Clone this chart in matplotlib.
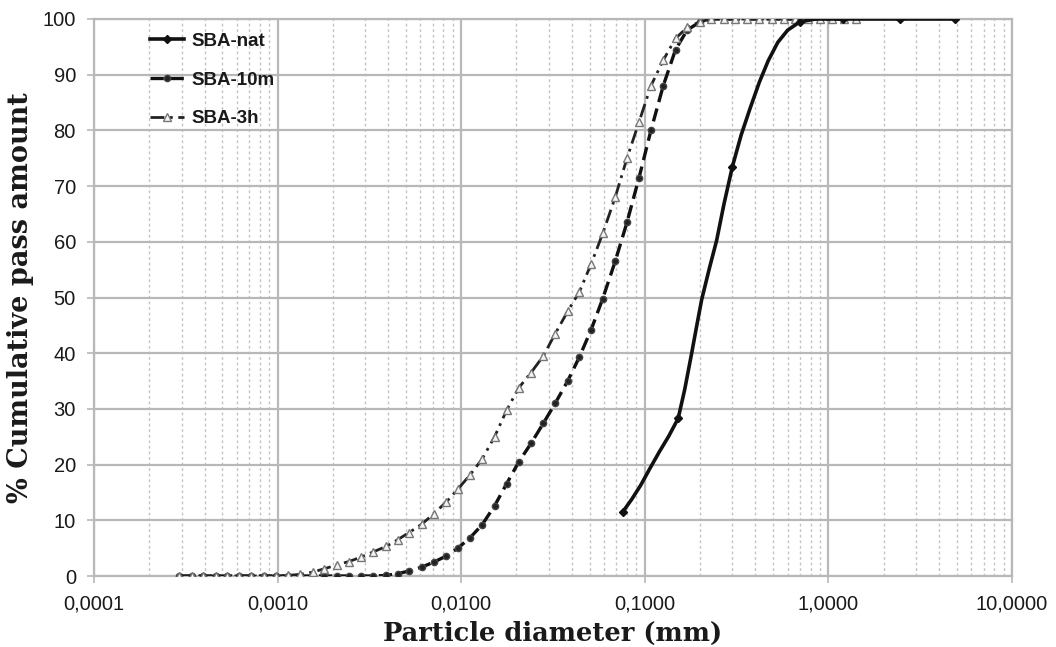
import matplotlib
matplotlib.use("Agg")
import matplotlib.pyplot as plt
from matplotlib.ticker import FixedLocator, NullFormatter, LogLocator

# ---- data ----
nat_x = [0.0758, 0.085, 0.095, 0.107, 0.12, 0.135, 0.152, 0.165, 0.18, 0.192,
         0.204, 0.225, 0.246, 0.27, 0.30, 0.335, 0.374, 0.42, 0.47, 0.53,
         0.60, 0.70, 0.85, 1.2, 2.45, 4.9]
nat_y = [11.5, 13.8, 16.3, 19.4, 22.3, 25.1, 28.3, 33.5, 40.0, 45.0,
         49.6, 55.3, 60.2, 66.8, 73.5, 79.2, 83.9, 88.6, 92.5, 95.8,
         98.0, 99.5, 100, 100, 100, 100]
nat_markers = [0, 6, 14, 21, 23, 24, 25]

m10_x = [0.00029, 0.00034, 0.00039, 0.00046, 0.00053, 0.00062, 0.00072, 0.00084,
         0.00098, 0.00114, 0.00133, 0.00155, 0.0018, 0.0021, 0.00245, 0.00285,
         0.0033, 0.0039, 0.0045, 0.0052, 0.0061, 0.0071, 0.0083, 0.0096, 0.0112,
         0.013, 0.0152, 0.0177, 0.0206, 0.024, 0.028, 0.0325, 0.038, 0.044, 0.051,
         0.059, 0.069, 0.08, 0.093, 0.108, 0.126, 0.147, 0.17, 0.2, 0.23, 0.27,
         0.31, 0.36, 0.42, 0.49, 0.57, 0.66, 0.77, 0.9, 1.05, 1.22]
m10_y = [0, 0, 0, 0, 0, 0, 0, 0,
         0, 0, 0, 0, 0, 0, 0, 0,
         0, 0.1, 0.4, 0.9, 1.6, 2.5, 3.6, 5.0, 6.9,
         9.2, 12.6, 16.6, 20.5, 23.8, 27.4, 31.0, 35.0, 39.3, 44.2,
         49.8, 56.5, 63.5, 71.5, 80.0, 88.0, 94.5, 98.0, 99.5, 100, 100,
         100, 100, 100, 100, 100, 100, 100, 100, 100, 100]

h3_x = [0.00029, 0.00034, 0.00039, 0.00046, 0.00053, 0.00062, 0.00072, 0.00084,
        0.00098, 0.00114, 0.00133, 0.00155, 0.0018, 0.0021, 0.00245, 0.00285,
        0.0033, 0.0039, 0.0045, 0.0052, 0.0061, 0.0071, 0.0083, 0.0096, 0.0112,
        0.013, 0.0152, 0.0177, 0.0206, 0.024, 0.028, 0.0325, 0.038, 0.044, 0.051,
        0.059, 0.069, 0.08, 0.093, 0.108, 0.126, 0.147, 0.17, 0.2, 0.23, 0.27,
        0.31, 0.36, 0.42, 0.49, 0.57, 0.66, 0.77, 0.9, 1.05, 1.22, 1.42]
h3_y = [0, 0, 0, 0, 0, 0, 0, 0,
        0, 0.1, 0.3, 0.7, 1.3, 2.0, 2.6, 3.4,
        4.3, 5.3, 6.5, 7.8, 9.3, 11.2, 13.3, 15.6, 18.2,
        21.0, 25.0, 29.8, 33.8, 36.5, 39.5, 43.5, 47.5, 51.0, 56.0,
        61.5, 68.0, 75.0, 81.5, 88.0, 92.6, 96.5, 98.5, 99.5, 100, 100,
        100, 100, 100, 100, 100, 100, 100, 100, 100, 100, 100]

labels = ["SBA-nat", "SBA-10m", "SBA-3h"]
x_ticks = [0.0001, 0.001, 0.01, 0.1, 1, 10]
x_ticklabels = ["0,0001", "0,0010", "0,0100", "0,1000", "1,0000", "10,0000"]
y_ticks = [0, 10, 20, 30, 40, 50, 60, 70, 80, 90, 100]

# ---- figure ----
fig = plt.figure(figsize=(10.56, 6.47), dpi=100)
ax = fig.add_axes([94/1056, 1 - 576/647, (1012 - 94)/1056, (576 - 19)/647])

ax.set_xscale("log")
ax.set_xlim(1e-4, 10)
ax.set_ylim(0, 100)

grid_c = "#b8b8b8"
ax.xaxis.set_major_locator(FixedLocator(x_ticks))
ax.set_xticklabels(x_ticklabels)
ax.xaxis.set_minor_locator(LogLocator(base=10, subs=range(2, 10), numticks=20))
ax.xaxis.set_minor_formatter(NullFormatter())
ax.set_yticks(y_ticks)

ax.grid(which="major", axis="both", color=grid_c, lw=1.6, ls="-", zorder=0)
ax.grid(which="minor", axis="x", color="#c4c4c4", lw=1.0, ls=(0, (2, 2)), zorder=0)
ax.set_axisbelow(True)

for s in ax.spines.values():
    s.set_color(grid_c)
    s.set_linewidth(1.6)

ax.tick_params(which="major", direction="out", length=5, width=1.2, color=grid_c,
               labelsize=14.5, labelcolor="#1a1a1a", pad=8)
ax.tick_params(which="minor", length=0)
for lab in ax.get_xticklabels() + ax.get_yticklabels():
    lab.set_fontfamily("Liberation Sans")

ax.plot(nat_x, nat_y, color="#111111", lw=2.6, ls="-", marker="D", ms=4,
        markevery=nat_markers, label=labels[0], zorder=4)
ax.plot(m10_x, m10_y, color="#111111", lw=2.4, ls=(0, (4, 2)), marker="o", ms=4.5,
        markerfacecolor="#222222", markeredgecolor="#444444", label=labels[1], zorder=3)
ax.plot(h3_x, h3_y, color="#222222", lw=2.0, ls=(0, (5, 2, 1, 2)), marker="^", ms=6,
        markerfacecolor="#f4f4f4", markeredgecolor="#777777", markeredgewidth=1.0,
        label=labels[2], zorder=3)

leg = ax.legend(loc="upper left", bbox_to_anchor=(0.061, 0.975), frameon=False,
                borderpad=0, borderaxespad=0, handlelength=1.8, handletextpad=0.4,
                labelspacing=1.15, prop={"family": "Liberation Sans", "size": 13.5,
                                         "weight": "bold"})
for t in leg.get_texts():
    t.set_color("#1a1a1a")

ax.set_xlabel("Particle diameter (mm)", family="DejaVu Serif", fontsize=18.5,
              fontweight="bold", color="#1a1a1a", labelpad=6)
ax.set_ylabel("% Cumulative pass amount", family="DejaVu Serif", fontsize=19.5,
              fontweight="bold", color="#1a1a1a", labelpad=6)

fig.savefig("out.png", dpi=100, facecolor="white")
